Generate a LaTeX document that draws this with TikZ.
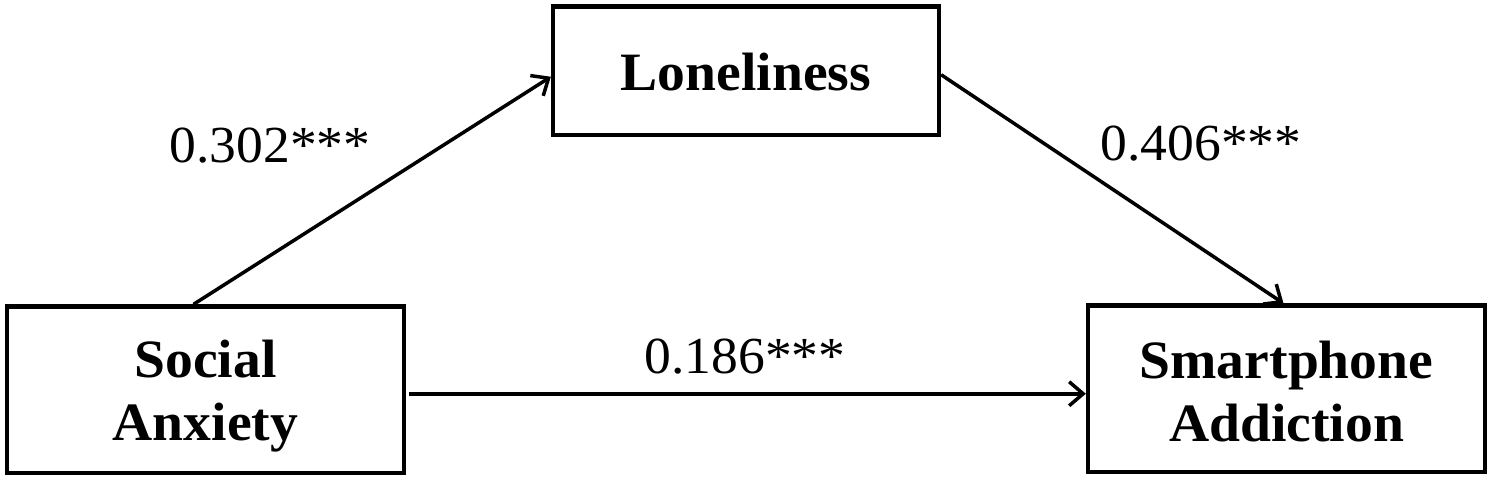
\documentclass[tikz,border=0pt]{standalone}
\usepackage{fontspec}
\setmainfont{Liberation Serif}[FakeStretch=1.03]
\usetikzlibrary{arrows.meta,calc}
\tikzset{
  varbox/.style={draw=black, line width=4.3pt, inner sep=0pt, fill=white},
  boxtext/.style={inner sep=0pt, align=center,
    font=\fontsize{54}{63}\selectfont\bfseries},
  coef/.style={inner sep=0pt, anchor=base, font=\fontsize{52}{60}\selectfont},
  path/.style={line width=3.5pt, -{Straight Barb[length=14pt,width=24pt,line width=3.5pt]}}
}
\begin{document}
\begin{tikzpicture}[x=1pt,y=-1pt]
\useasboundingbox (0,0) rectangle (1492,481);
\node[varbox, minimum width=386pt, minimum height=128.5pt] (lon) at (746,70.75) {};
\node[varbox, minimum width=397pt, minimum height=166.5pt] (sa) at (205.5,389.75) {};
\node[varbox, minimum width=397pt, minimum height=166.5pt] (sm) at (1286.5,388.75) {};
\node[boxtext] (lontext) at ($(lon.center)+(0,1)$) {Loneliness};
\node[boxtext] (satext) at ($(sa.center)+(0,6)$) {Social\\Anxiety};
\node[boxtext] (smtext) at ($(sm.center)+(0,3)$) {Smartphone\\Addiction};
\draw[path] ($(sa.north)+(-12,0)$) -- ($(lon.west)+(0,6)$);
\draw[path] ($(lon.east)+(0,4)$) -- ($(sm.north)+(-3,0)$);
\draw[path] ($(sa.east)+(3,4)$) -- ($(sm.west)+(0,5)$);
\node[coef] (c1) at (270,163) {0.302***};
\node[coef] (c2) at (1201,161) {0.406***};
\node[coef] (c3) at (745,373) {0.186***};
\end{tikzpicture}
\end{document}
